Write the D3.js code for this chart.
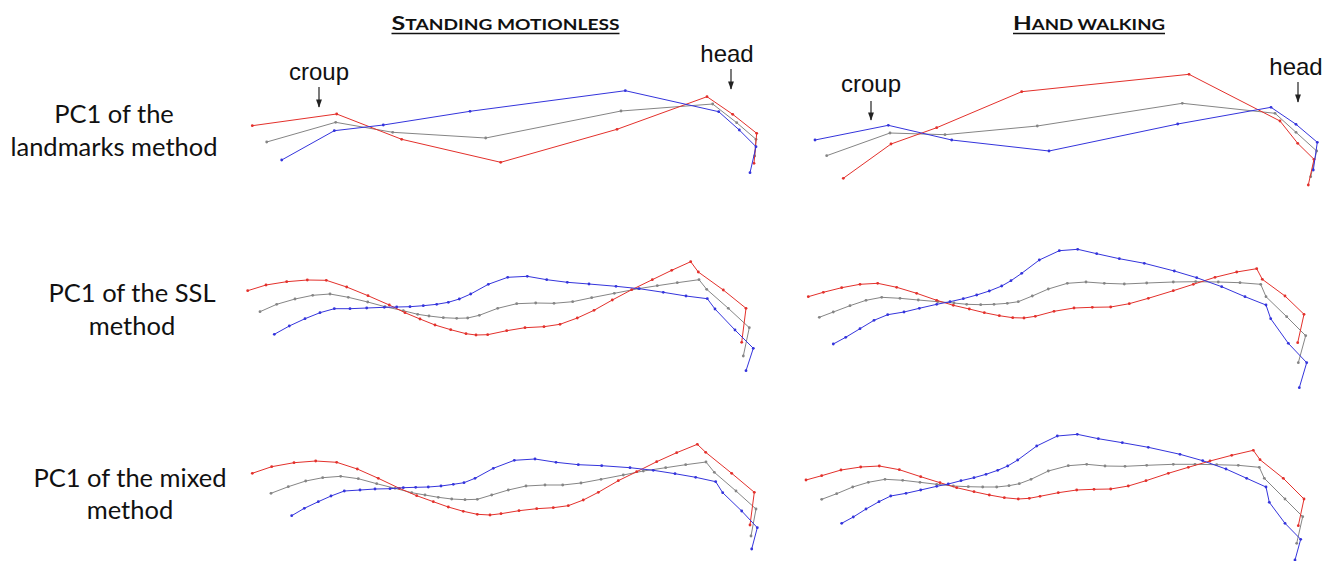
<!DOCTYPE html>
<html>
<head>
<meta charset="utf-8">
<script src="https://cdn.jsdelivr.net/npm/d3@7/dist/d3.min.js"></script>
<style>
  html, body { margin: 0; padding: 0; background: #fff; }
  svg { display: block; }
</style>
</head>
<body>
<svg id="chart" width="1336" height="561"></svg>
<script>
// ---- Data: dorsal profile outlines (x along body from croup to head, y = height), arbitrary units ----
// Row 1: PC1 of the landmarks method
const lmStandRed  = [[7.3,64.3],[91.7,76],[156.7,50.7],[255.7,27.7],[372,60.7],[462,93.3],[487.7,75.7],[511.7,56.7],[509,26.7]];
const lmStandGray = [[21.7,48],[90.7,67.7],[147.7,57.7],[240.7,52],[376,79],[467.7,86],[491.7,67.3],[511,50.7],[509.7,34]];
const lmStandBlue = [[36.7,30],[89.3,59.3],[138.3,65],[225,78.7],[380.3,99.3],[473.7,78.3],[494.3,60],[511,43.3],[505,17.3]];
const lmWalkRed   = [[43.3,11.7],[91,46],[136.7,62.3],[221.7,98.3],[389,115.7],[480,69],[497.7,46.7],[514,30.7],[508.3,5]];
const lmWalkGray  = [[26.7,34.3],[90,57],[145,55.3],[237.3,64],[382.3,86.7],[475,76.7],[496,57.7],[516.7,39],[510.7,13.3]];
const lmWalkBlue  = [[15,50],[88.3,64.7],[151.7,50],[249,39],[377.7,66],[471,82.7],[496,65.7],[517.3,47.7],[513.3,20]];

// Row 2: PC1 of the SSL method
const sslStandRed  = [[2.7,99.3],[21,105],[41.7,108.3],[62.3,110],[81.3,109.7],[101.7,103],[123,94.3],[144.3,85],[160,77.3],[175,71],[190,65],[205.7,60.3],[221,56.3],[231,55],[242.7,55.3],[261.7,59.3],[280,62.3],[299,63.3],[315,65.7],[332.3,72],[349,79.7],[367.3,90],[386.7,100.3],[407.3,110.3],[426.7,119.7],[445.7,128.3],[453.3,118],[478.3,100],[501,81.7],[496.7,47.7]];
const sslStandGray = [[15,78.3],[31.7,85.7],[50,91],[67.7,94.7],[85,96],[103.3,92.7],[122.7,88],[140,83.3],[158.3,79.3],[172.7,75.7],[184,74],[198.3,72.3],[211.7,71.7],[222.7,72],[234.3,74.7],[252.7,81.7],[271.7,86.3],[290.7,87],[309,86.7],[327.7,88.3],[346.7,92.3],[369.3,96.7],[393.3,101.3],[412.3,104.3],[432.3,107.3],[454,110.3],[461.7,100.7],[483.3,81.7],[504.3,62.3],[498.3,34]];
const sslStandBlue = [[29.3,55.7],[44.3,64],[60,71.3],[75,77.3],[89.3,81.3],[105,81.3],[121.7,82],[139.3,82.7],[151.7,83],[165,83.3],[178.3,84.3],[191.7,85.7],[203.3,87.7],[214.3,91],[225.7,96],[243.3,105.7],[262.7,112.7],[282.3,113.7],[301.7,110.3],[322.3,107.7],[344,106],[371,103.7],[394.3,101.3],[418.3,97.7],[441,94],[462.3,91.3],[470,81],[490,60],[508.3,41.7],[501,19.3]];
const sslWalkRed   = [[8.3,93.3],[23.3,97.7],[41.7,102.3],[60,105.7],[77.7,106.7],[96.7,102.7],[116.7,96.7],[136.7,89.7],[153.3,84.7],[169.3,81],[184.3,77.3],[199.3,74.3],[212.7,72.3],[224,72],[235.3,73.7],[254,78.7],[274,82],[292.3,82.7],[310.7,83],[329.3,86.3],[348.3,91.7],[373.3,99.3],[393.3,105.7],[415,112.7],[436.7,118],[456.7,121.3],[462.3,110.7],[485,94],[504,75.7],[497.7,47.3]];
const sslWalkGray  = [[19.3,72.7],[33.3,78],[50,84.3],[66,89.7],[81.7,92.7],[100,91.7],[118.3,90],[137.7,88.3],[154,87],[166.7,85.7],[180.7,85.3],[194,85.7],[207.3,86.7],[218.3,88.3],[232.3,94],[248.3,101],[267.3,106.7],[286,108],[304.3,106.7],[324.3,106],[346.7,107],[373.3,108],[395.7,108.3],[418.3,108],[440,107.3],[460.7,105.7],[466,93.3],[486.7,73.3],[505.7,54.3],[498.3,27.3]];
const sslWalkBlue  = [[33.3,46],[45.7,52.7],[60,61.3],[74,69.7],[87.7,75.3],[104,78],[119.3,81.7],[136.7,85.7],[150,88.3],[163.3,91.3],[176.7,95],[189.3,99],[201.7,104],[211,109.3],[221.7,116.7],[239.3,130],[259.3,139.3],[277.7,140.7],[296.7,136.3],[319.3,131.3],[344.3,126.7],[374.3,119],[396.7,112.3],[421.7,103.3],[445,93.3],[466,85],[470.7,71.3],[488.3,46.7],[506.7,27.3],[499.3,2.3]];

// Row 3: PC1 of the mixed method
const mixStandRed  = [[7.3,91.7],[26.7,98.3],[49,102.3],[70.7,104],[91.7,102.7],[112.3,96],[133.3,86.7],[154.3,76.7],[171.7,69.3],[188.3,63.3],[203.3,58],[218.3,53.7],[232.3,50.7],[245,50],[256,51.3],[274,54.3],[291.7,56.3],[308.3,57.3],[323.3,59.3],[338.3,65],[353.3,72.7],[373.3,84.3],[391.7,93.3],[411.7,103.3],[431.7,112.3],[452.3,120.7],[460.7,112.7],[486.7,91.7],[509.3,72.7],[505,40]];
const mixStandGray = [[26,71.7],[43.3,78.3],[60.7,84],[77.7,87.3],[95.7,88.7],[113.3,86.3],[131.7,81.3],[150,76.7],[166.7,72.3],[180,70],[193.3,67.7],[206.7,66],[220,65.3],[232.3,65.7],[246.7,70],[263.3,75],[281,79],[300,80],[317.7,80],[336,82],[356,85.7],[378.3,90],[398.3,94],[420.7,97.3],[440.7,100.3],[461,103],[469.3,92.7],[491,74],[511,56],[506,29]];
const mixStandBlue = [[46.7,49.3],[59.3,56.7],[73.3,63.3],[86,69],[99.3,74],[115,75],[130,76],[145,76.3],[158.3,77.3],[170.7,77.7],[183.3,78],[196,79],[208.3,80.7],[219,82.3],[230,86.7],[248.3,96.7],[269.3,104.7],[290,106],[311,102.7],[333.3,100.3],[356.7,99.3],[385,97.3],[408.3,94.7],[430,91.3],[450.7,87.7],[470.7,83.3],[477.7,72.3],[496.7,54],[512.3,37.3],[506.7,16]];
const mixWalkRed   = [[6,85],[21.7,89.3],[41,95],[60.7,98],[79.3,99],[99.3,95.3],[120.7,88.3],[140,82.3],[156.7,77.3],[174,73.3],[189.3,70],[204.3,67.3],[218.3,66],[229.3,66.7],[240,68.7],[258.3,72.3],[276.7,75],[294,75.7],[310.7,76],[328.3,79],[346,84.3],[368.3,91.7],[388.3,97.7],[410,104],[431.7,109.7],[453.3,114.7],[460,105.3],[483.3,86.7],[504,66],[498.3,39.3]];
const mixWalkGray  = [[21.7,65.7],[36.7,71.3],[52.7,78],[68.3,82.7],[85,85.7],[102.7,84.7],[120,82.7],[136.7,80.7],[153.3,79],[168.3,78.3],[182.7,78],[196.7,78],[209,79.3],[219.3,81.3],[231,85.7],[248.3,94],[268.3,99.3],[286.7,100.7],[305,99],[325,98.7],[346.7,99.7],[373.3,100.7],[395,100.7],[416.7,100.3],[438.3,99.7],[459.3,97.7],[464.3,86.7],[485,66],[502.7,48.3],[496.7,21.7]];
const mixWalkBlue  = [[41.7,41.7],[53.3,48],[66,56],[79,63.3],[90.7,69],[106,71.7],[120.7,75],[136.7,78.7],[148.3,81],[161,84.3],[174,87.3],[186,90.7],[197.7,94.7],[207.7,99],[217.7,105],[236.7,119],[257.3,129],[277.3,130.7],[298.3,126.3],[322.3,122.3],[348.3,117.7],[380,110.7],[402.7,104.3],[426,96],[446.7,86.7],[466,78],[469.3,62.7],[485,41.7],[500.7,25.7],[495,5]];

// ---- Labels ----
const columnTitles = ["Standing motionless", "Hand walking"];
const rowLabels = [["PC1 of the", "landmarks method"], ["PC1 of the SSL", "method"], ["PC1 of the mixed", "method"]];
const seriesNames = ["red", "gray", "blue"];
const seriesColors = {red: "#e3302b", gray: "#858585", blue: "#3434dc"};

// ---- Layout (positions and sizes) ----
const colLeft = [245, 800];
const rowBase = [190, 390, 565];
const panelW = 530, panelH = 150;

const svg = d3.select("#chart");

const xScales = colLeft.map(l => d3.scaleLinear().domain([0, panelW]).range([l, l + panelW]));
const yScales = rowBase.map(b => d3.scaleLinear().domain([0, panelH]).range([b, b - panelH]));

const table = [
  [[lmStandRed, lmStandGray, lmStandBlue], [lmWalkRed, lmWalkGray, lmWalkBlue]],
  [[sslStandRed, sslStandGray, sslStandBlue], [sslWalkRed, sslWalkGray, sslWalkBlue]],
  [[mixStandRed, mixStandGray, mixStandBlue], [mixWalkRed, mixWalkGray, mixWalkBlue]]
];

table.forEach((row, r) => {
  row.forEach((panel, c) => {
    const x = xScales[c], y = yScales[r];
    const line = d3.line().x(d => x(d[0])).y(d => y(d[1]));
    const g = svg.append("g").attr("class", `panel r${r} c${c}`);
    [1, 0, 2].forEach(si => {
      const data = panel[si];
      const col = seriesColors[seriesNames[si]];
      g.append("path").datum(data)
        .attr("d", line)
        .attr("fill", "none")
        .attr("stroke", col)
        .attr("stroke-width", 1)
        .attr("stroke-linejoin", "round");
      g.selectAll(null).data(data).enter().append("circle")
        .attr("cx", d => x(d[0])).attr("cy", d => y(d[1]))
        .attr("r", 1.4).attr("fill", col);
    });
  });
});

// Column titles (small caps: only the initial letter is full-size; bold, underlined)
const titleX = [505.5, 1089];
const titleW = [228, 152];
columnTitles.forEach((t, i) => {
  const txt = svg.append("text")
    .attr("x", titleX[i]).attr("y", 30)
    .attr("text-anchor", "middle")
    .style("font-family", "Lato, 'Open Sans', sans-serif")
    .style("font-weight", "700")
    .attr("fill", "#111");
  txt.append("tspan").style("font-size", "19px").text(t[0].toUpperCase());
  txt.append("tspan").style("font-size", "14.5px").text(t.slice(1).toUpperCase());
  txt.attr("textLength", titleW[i]).attr("lengthAdjust", "spacingAndGlyphs");
  svg.append("line")
    .attr("x1", titleX[i] - titleW[i] / 2).attr("x2", titleX[i] + titleW[i] / 2)
    .attr("y1", 33.5).attr("y2", 33.5)
    .attr("stroke", "#111").attr("stroke-width", 1.6);
});

// Row labels
const rowLabelX = [114, 132, 130];
const rowLabelY = [[123, 156], [302, 335], [487, 519]];
rowLabels.forEach((lines, r) => {
  lines.forEach((ln, k) => {
    svg.append("text")
      .attr("x", rowLabelX[r]).attr("y", rowLabelY[r][k])
      .attr("text-anchor", "middle")
      .style("font-family", "Lato, 'Open Sans', sans-serif")
      .style("font-size", "25.5px")
      .attr("fill", "#111")
      .text(ln);
  });
});

// Anatomical annotations with arrows
const defs = svg.append("defs");
defs.append("marker").attr("id", "ah")
  .attr("viewBox", "0 0 10 10").attr("refX", 9).attr("refY", 5)
  .attr("markerWidth", 7).attr("markerHeight", 7).attr("orient", "auto")
  .append("path").attr("d", "M0,1.5 L10,5 L0,8.5 Z").attr("fill", "#222");

const annotations = [
  {text: "croup", tx: 319, ty: 80, ax: 319, ay1: 87, ay2: 107},
  {text: "head",  tx: 727, ty: 62, ax: 731, ay1: 69, ay2: 89},
  {text: "croup", tx: 871, ty: 92, ax: 871, ay1: 101, ay2: 120},
  {text: "head",  tx: 1296, ty: 75, ax: 1298, ay1: 82, ay2: 102}
];
annotations.forEach(a => {
  svg.append("text")
    .attr("x", a.tx).attr("y", a.ty)
    .attr("text-anchor", "middle")
    .style("font-family", "'Liberation Sans', Arial, sans-serif")
    .style("font-size", "24px")
    .attr("fill", "#111")
    .text(a.text);
  svg.append("line")
    .attr("x1", a.ax).attr("x2", a.ax)
    .attr("y1", a.ay1).attr("y2", a.ay2)
    .attr("stroke", "#222").attr("stroke-width", 1.2)
    .attr("marker-end", "url(#ah)");
});
</script>
</body>
</html>
